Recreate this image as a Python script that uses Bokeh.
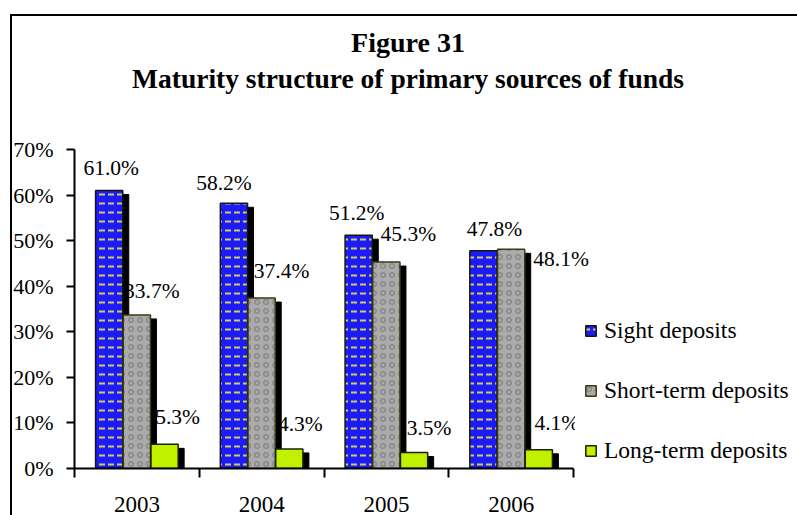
from bokeh.plotting import figure
from bokeh.models import (ColumnDataSource, FixedTicker, NumeralTickFormatter, LabelSet,
                          Legend, LegendItem, Label, Range1d)
from bokeh.transform import dodge
from bokeh.embed import file_html
from bokeh.resources import INLINE

# ---------------- data ----------------
years = ["2003", "2004", "2005", "2006"]
sight = [61.0, 58.2, 51.2, 47.8]
short_term = [33.7, 37.4, 45.3, 48.1]
long_term = [5.3, 4.3, 3.5, 4.1]
series_names = ["Sight deposits", "Short-term deposits", "Long-term deposits"]
title_lines = ["Figure 31", "Maturity structure of primary sources of funds"]
y_tick_values = [0, 10, 20, 30, 40, 50, 60, 70]

# ---------------- layout / style ----------------
W, H = 797, 515
LEFT, BOTTOM = 74, 47            # plot-area left edge / space below axis
AXIS_W, AXIS_H = 499, 319        # length of x axis and of y axis (0..70%) in px
FONT = "Liberation Serif"
BAR_W = 0.218
OFFSETS = [-0.222, 0.0, 0.222]
SHADOW_DX = 0.048      # data units (~6px)
SHADOW_DY = 0.0088     # data units (~4px)
# per-label pixel offsets (x right, y up) for value labels
label_dx = [[2, -10, -2, 11], [15, 20, 22, 50], [13, 11, 15, 18]]
label_dy = [[23, 20, 22, 22], [24, 27, 28, -10], [27, 25, 25, 27]]

styles = [
    dict(fill_color="#1c1cf8", line_color="#151515", hatch_pattern="horizontal_dash",
         hatch_color="#d6cc5a", hatch_scale=9, hatch_weight=2),
    dict(fill_color="#ababab", line_color="#3c3a12", hatch_pattern="ring",
         hatch_color="#6e6e6e", hatch_scale=9, hatch_weight=1.5, hatch_alpha=0.55),
    dict(fill_color="#c0f200", line_color="#1e2200"),
]

border_css = {
    "background-image": "linear-gradient(#000,#000), linear-gradient(#000,#000)",
    "background-size": "2px 100%, 100% 2px",
    "background-position": "9.5px 13.5px, 9.5px 13.5px",
    "background-repeat": "no-repeat",
}

y_max = max(y_tick_values) / 100
frame_w = W - LEFT
frame_h = H - BOTTOM
p = figure(width=W, height=H, output_backend="svg", toolbar_location=None,
           x_range=Range1d(0, len(years) * frame_w / AXIS_W),
           y_range=Range1d(0, y_max * frame_h / AXIS_H),
           min_border_left=LEFT, min_border_right=0, min_border_top=0, min_border_bottom=BOTTOM,
           styles=border_css)
p.title.visible = False
p.outline_line_color = None
p.grid.visible = False
p.background_fill_color = None
p.border_fill_color = None

xs = [i + 0.5 for i in range(len(years))]
all_series = [sight, short_term, long_term]

sources = []
for k, vals in enumerate(all_series):
    sources.append(ColumnDataSource(dict(
        x=xs,
        top=[v / 100 for v in vals],
        shadow_top=[v / 100 - SHADOW_DY for v in vals],
        label=[f"{v:.1f}%" for v in vals],
        dx=label_dx[k],
        dy=label_dy[k],
    )))

# value labels (under the bars/shadows)
for k, src in enumerate(sources):
    p.add_layout(LabelSet(x=dodge("x", OFFSETS[k]), y="top", text="label", source=src,
                          x_offset="dx", y_offset="dy", text_align="center",
                          text_baseline="middle", text_font=FONT, text_font_size="21.5px",
                          text_color="black", level="underlay"))

# shadows
for k, src in enumerate(sources):
    p.vbar(x=dodge("x", OFFSETS[k] + SHADOW_DX), top="shadow_top", bottom=0, width=BAR_W,
           source=src, fill_color="black", line_color="black")

# bars
renderers = []
for k, src in enumerate(sources):
    r = p.vbar(x=dodge("x", OFFSETS[k]), top="top", bottom=0, width=BAR_W, source=src,
               line_width=1.5, **styles[k])
    renderers.append(r)

# axes
yax = p.yaxis[0]
yax.bounds = (0, y_max)
yax.ticker = FixedTicker(ticks=[t / 100 for t in y_tick_values])
yax.formatter = NumeralTickFormatter(format="0%")
yax.minor_tick_line_color = None
yax.major_tick_out = 8
yax.major_tick_in = 0
yax.major_label_standoff = 13
yax.axis_line_width = 2
yax.major_tick_line_width = 2
yax.major_label_text_font = FONT
yax.major_label_text_font_size = "22px"
yax.major_label_text_color = "black"

xax = p.xaxis[0]
xax.bounds = (0, len(years))
xax.ticker = FixedTicker(ticks=xs, minor_ticks=list(range(len(years) + 1)))
xax.major_label_overrides = {x: y for x, y in zip(xs, years)}
xax.major_tick_out = 0
xax.major_tick_in = 0
xax.minor_tick_out = 9
xax.minor_tick_in = 0
xax.minor_tick_line_color = "black"
xax.minor_tick_line_width = 2
xax.axis_line_width = 2
xax.major_label_standoff = 19
xax.major_label_text_font = FONT
xax.major_label_text_font_size = "23px"
xax.major_label_text_color = "black"

# legend (right of the axes, white box hides what lies beneath)
legend = Legend(items=[LegendItem(label=n, renderers=[r]) for n, r in zip(series_names, renderers)],
                location=(AXIS_W + 2, -4.5), orientation="vertical", padding=9, spacing=33,
                margin=0, glyph_width=13, glyph_height=13, label_standoff=7, label_height=24,
                label_text_font=FONT, label_text_font_size="23.5px", label_text_color="black",
                background_fill_color="white", background_fill_alpha=1.0, border_line_alpha=0)
p.add_layout(legend)

# titles
title_cx = 333.5
p.add_layout(Label(x=title_cx, y=426, x_units="screen", y_units="screen", text=title_lines[0],
                   text_align="center", text_baseline="alphabetic", text_font=FONT,
                   text_font_style="bold", text_font_size="28px", text_color="black"))
p.add_layout(Label(x=title_cx, y=390.5, x_units="screen", y_units="screen", text=title_lines[1],
                   text_align="center", text_baseline="alphabetic", text_font=FONT,
                   text_font_style="bold", text_font_size="27.5px", text_color="black"))

open("out.html", "w").write(file_html(p, INLINE))
